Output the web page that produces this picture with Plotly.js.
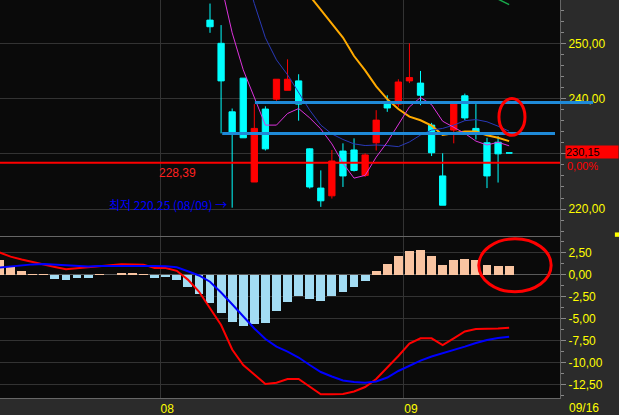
<!DOCTYPE html>
<html>
<head>
<meta charset="utf-8">
<script src="https://cdn.plot.ly/plotly-3.0.1.min.js"></script>
<style>
html,body{margin:0;padding:0;background:#2b2b2b;overflow:hidden;}
#chart{width:619px;height:415px;}
</style>
</head>
<body>
<div id="chart"></div>
<script>
// ---- data ----
const dates = ['07/11','07/12','07/15','07/16','07/17','07/18','07/19','07/22','07/23','07/24','07/25','07/26','07/29','07/30','07/31',
 '08/01','08/02','08/05','08/06','08/07','08/08','08/09','08/12','08/13','08/14','08/15','08/16','08/19','08/20','08/21','08/22','08/23','08/26','08/27','08/28','08/29','08/30',
 '09/03','09/04','09/05','09/06','09/09','09/10','09/11','09/12','09/13','09/16'];

const N19 = Array(19).fill(null);
const open  = N19.concat([254.2,250.0,237.6,243.7,224.9,238.1,239.9,241.5,243.2,230.9,223.8,222.4,230.5,230.7,226.1,232.0,239.0,239.0,243.2,242.8,235.2,226.0,234.3,240.5,234.6,232.0,232.1,230.17]);
const high  = N19.concat([257.2,253.3,238.2,243.7,239.0,238.6,243.5,247.1,244.4,231.0,227.0,230.7,231.9,232.8,230.1,237.9,240.6,243.5,250.0,245.0,235.6,230.1,239.3,240.9,239.0,232.9,233.2,230.17]);
const low   = N19.concat([251.9,233.7,220.25,232.9,224.9,230.6,239.6,241.5,236.0,223.7,220.4,221.9,224.0,226.8,225.8,230.6,237.6,238.5,242.8,238.8,229.6,220.7,231.9,236.1,232.6,223.8,224.8,230.15]);
const close = N19.concat([253.0,243.2,233.9,232.9,234.6,230.9,243.5,243.5,239.0,224.0,221.5,228.7,226.0,227.0,229.8,236.1,238.3,243.0,243.8,240.6,230.2,220.7,239.2,236.5,233.9,226.0,230.0,230.15]);

const ma5  = Array(20).fill(null).concat([260.7,251.9,245.2,240.1,235.2,235.2,237.3,238.2,236.5,234.5,231.8,228.3,225.6,226.1,229.4,232.1,235.4,238.5,240.2,238.9,235.9,234.8,233.7,232.3,231.6,232.1,231.45]);
const ma10 = Array(22).fill(null).concat([264.0,257.2,251.0,247.0,244.3,241.2,237.9,235.2,233.6,232.6,231.8,231.5,231.6,231.5,231.3,232.15,233.4,234.3,234.6,235.2,236.0,236.2,235.8,235.0,234.1]);
const ma20 = Array(27).fill(null).concat([261.1,258.6,256.1,253.7,251.05,247.7,245.1,242.2,239.9,238.1,236.74,236.07,235.1,233.4,233.75,234.05,234.05,233.35,232.9,232.3]);
const ma60 = Array(44).fill(null).concat([259.2,258.0,257.0]);

const macd   = [2.52,2.05,1.73,1.42,1.17,0.88,0.61,0.73,0.83,0.91,1.05,1.18,1.17,1.14,0.77,0.75,0.44,-0.56,-1.91,-3.76,-5.72,-8.50,-10.26,-11.34,-12.42,-12.27,-11.85,-11.85,-12.70,-13.59,-13.59,-13.56,-13.27,-12.76,-11.85,-10.55,-9.24,-7.82,-7.23,-7.23,-7.99,-7.23,-6.45,-6.17,-6.17,-6.11,-6.02];
const signal = [0.80,0.93,1.05,1.17,1.22,1.15,1.03,0.97,0.93,0.99,1.00,1.01,1.02,1.01,0.99,0.95,0.84,0.39,-0.09,-0.80,-2.02,-3.36,-4.77,-6.11,-7.31,-8.17,-8.73,-9.41,-10.26,-11.06,-11.57,-12.02,-12.19,-12.27,-12.14,-11.68,-10.94,-10.38,-9.76,-9.30,-8.93,-8.61,-8.17,-7.76,-7.42,-7.19,-7.05];
const hist   = [1.67,0.84,0.42,0.11,0.05,-0.45,-0.57,-0.34,-0.34,0.03,-0.08,0.14,0.14,0.05,-0.34,-0.26,-0.60,-1.40,-2.16,-3.18,-4.32,-5.34,-5.80,-5.60,-5.45,-4.09,-3.07,-2.39,-2.73,-2.95,-2.39,-1.93,-1.36,-0.68,0.42,1.25,2.16,2.73,2.84,2.16,1.14,1.70,1.82,1.70,1.14,1.02,1.02];

// user-drawn horizontal trend lines (price level, start index, end index)
const trendLevels = [233.7, 239.3];
const trendStart  = [20.1, 23.05];
const trendEnd    = [50.14, 50.6];
const refLine = 228.39;

// tick labels (230 label is covered by the last-price box in the original)
const priceTicks = [220, 230, 240, 250];
const priceTickLabels = ['220,00','','240,00','250,00'];
const macdTicks = [2.5, 0, -2.5, -5, -7.5, -10, -12.5];
const macdTickLabels = ['2,50','0,00','-2,50','-5,00','-7,50','-10,00','-12,50'];
const monthTicks = [14.5, 36.5];
const monthLabels = ['08','09'];

// ---- chart ----
const idx = dates.map((d, i) => i);
const fmt = v => v.toFixed(2).replace('.', ',');
const last = dates.length - 1;
let lowIdx = 0, minLow = Infinity;
low.forEach((v, i) => { if (v !== null && v < minLow) { minLow = v; lowIdx = i; } });

const XR = [0.045, 50.59];
const FONT = 'Liberation Sans, Arial, sans-serif';

const line = (y, color, width) => ({type:'scatter', mode:'lines', x:idx, y:y, xaxis:'x', yaxis:'y',
  line:{color:color, width:width}, hoverinfo:'skip', connectgaps:false});

const traces = [
  line(ma60, '#18a84a', 1.5),
  line(ma20, '#ffaa00', 2),
  line(ma10, '#2a3ab8', 1),
  line(ma5, '#dd33dd', 1),
  {type:'candlestick', x:idx, open:open, high:high, low:low, close:close, xaxis:'x', yaxis:'y',
   increasing:{line:{color:'#ff0000', width:1}, fillcolor:'#ff0000'},
   decreasing:{line:{color:'#00ffff', width:1}, fillcolor:'#00ffff'},
   whiskerwidth:0}
];
trendLevels.forEach((lv, i) => {
  traces.push({type:'scatter', mode:'lines', x:[trendStart[i], trendEnd[i]], y:[lv, lv], xaxis:'x', yaxis:'y',
    line:{color:'#1f8ad8', width:3}, hoverinfo:'skip'});
});
traces.push({type:'bar', x:idx, y:hist, width:0.8, xaxis:'x2', yaxis:'y2',
  marker:{color:hist.map(v => v >= 0 ? '#f9c4a1' : '#a3dcf3'), line:{width:0}}});
traces.push({type:'scatter', mode:'lines', x:idx, y:macd, xaxis:'x2', yaxis:'y2', line:{color:'#ff0000', width:2}});
traces.push({type:'scatter', mode:'lines', x:idx, y:signal, xaxis:'x2', yaxis:'y2', line:{color:'#0000ff', width:2}});

const yAxisCommon = {
  side:'right', ticks:'outside', ticklen:5, tickcolor:'#888', tickwidth:1,
  tickfont:{color:'#ffff00', size:12, family:FONT},
  showgrid:true, gridcolor:'#333333', gridwidth:1,
  showline:true, linecolor:'#666666', linewidth:1,
  tickmode:'array', fixedrange:true
};

const layout = {
  width:619, height:415,
  margin:{l:0, r:59, t:0, b:17, pad:0},
  paper_bgcolor:'#2b2b2b', plot_bgcolor:'#0a0a0a',
  showlegend:false, dragmode:false, bargap:0,
  boxgap:0.19,
  xaxis:{domain:[0,1], anchor:'y', range:XR, tickmode:'array', tickvals:monthTicks, showticklabels:false,
    ticks:'', showgrid:true, gridcolor:'#333333', zeroline:false, showline:true, linecolor:'#666666',
    rangeslider:{visible:false}, fixedrange:true},
  xaxis2:{domain:[0,1], anchor:'y2', range:XR, tickmode:'array', tickvals:monthTicks, ticktext:monthLabels,
    ticks:'', showgrid:true, gridcolor:'#333333', zeroline:false, showline:true, linecolor:'#666666',
    tickfont:{color:'#ffff00', size:12, family:FONT}, ticklabelshift:7, fixedrange:true},
  yaxis:Object.assign({}, yAxisCommon, {domain:[0.4065,1], anchor:'x', range:[215.09, 257.84],
    tickvals:priceTicks, ticktext:priceTickLabels, zeroline:false,
    minor:{tickmode:'linear', tick0:0, dtick:2, ticks:'outside', ticklen:3, tickcolor:'#888', showgrid:false}}),
  yaxis2:Object.assign({}, yAxisCommon, {domain:[0,0.4045], anchor:'x2', range:[-14.01, 4.28],
    tickvals:macdTicks, ticktext:macdTickLabels, zeroline:true, zerolinecolor:'#5a5a5a', zerolinewidth:1,
    minor:{tickmode:'linear', tick0:0, dtick:1.25, ticks:'outside', ticklen:3, tickcolor:'#888', showgrid:false}}),
  shapes:[
    {type:'line', xref:'paper', x0:0, x1:1, yref:'y', y0:refLine, y1:refLine, line:{color:'#ff0000', width:2}},
    {type:'line', xref:'paper', x0:1, x1:1.059, yref:'y', y0:trendLevels[1], y1:trendLevels[1], line:{color:'#1f8ad8', width:3}},
    {type:'circle', xref:'x', yref:'y', x0:45.08, x1:47.43, y0:233.35, y1:240.0, line:{color:'#ff0000', width:3}},
    {type:'circle', xref:'x2', yref:'y2', x0:43.26, x1:49.79, y0:-1.94, y1:4.08, line:{color:'#ff0000', width:3}},
    {type:'rect', xref:'paper', yref:'paper', x0:1.098, x1:1.106, y0:0.405, y1:0.416, fillcolor:'#ffff00', line:{width:0}}
  ],
  annotations:[
    {xref:'paper', x:0.281, yref:'y', y:refLine, yanchor:'top', yshift:-1, text:fmt(refLine), showarrow:false,
     font:{color:'#ff2020', size:12, family:FONT}},
    {xref:'x', x:lowIdx, yref:'y', y:minLow, xanchor:'right', xshift:-3, yshift:3, showarrow:false,
     text:'최저 ' + minLow.toFixed(2) + ' (' + dates[lowIdx] + ') →',
     font:{color:'#0000ff', size:12, family:'Noto Sans CJK KR'}},
    {xref:'paper', x:1, xanchor:'left', xshift:5, yref:'y', y:close[last], yshift:1, text:fmt(close[last]), showarrow:false,
     bgcolor:'#ff0000', width:52, height:12, align:'left', borderpad:0, font:{color:'#000000', size:11, family:FONT}},
    {xref:'paper', x:1, xanchor:'left', xshift:6, yref:'y', y:close[last], yshift:-13, text:'0,00%', showarrow:false,
     height:12, borderpad:0, font:{color:'#ff0000', size:11, family:FONT}},
    {xref:'paper', x:1, xanchor:'left', xshift:7, yref:'paper', y:0, yanchor:'top', yshift:-1, text:dates[last], showarrow:false,
     font:{color:'#ffff00', size:12, family:FONT}}
  ]
};

Plotly.newPlot('chart', traces, layout, {displayModeBar:false, staticPlot:true});
</script>
</body>
</html>
